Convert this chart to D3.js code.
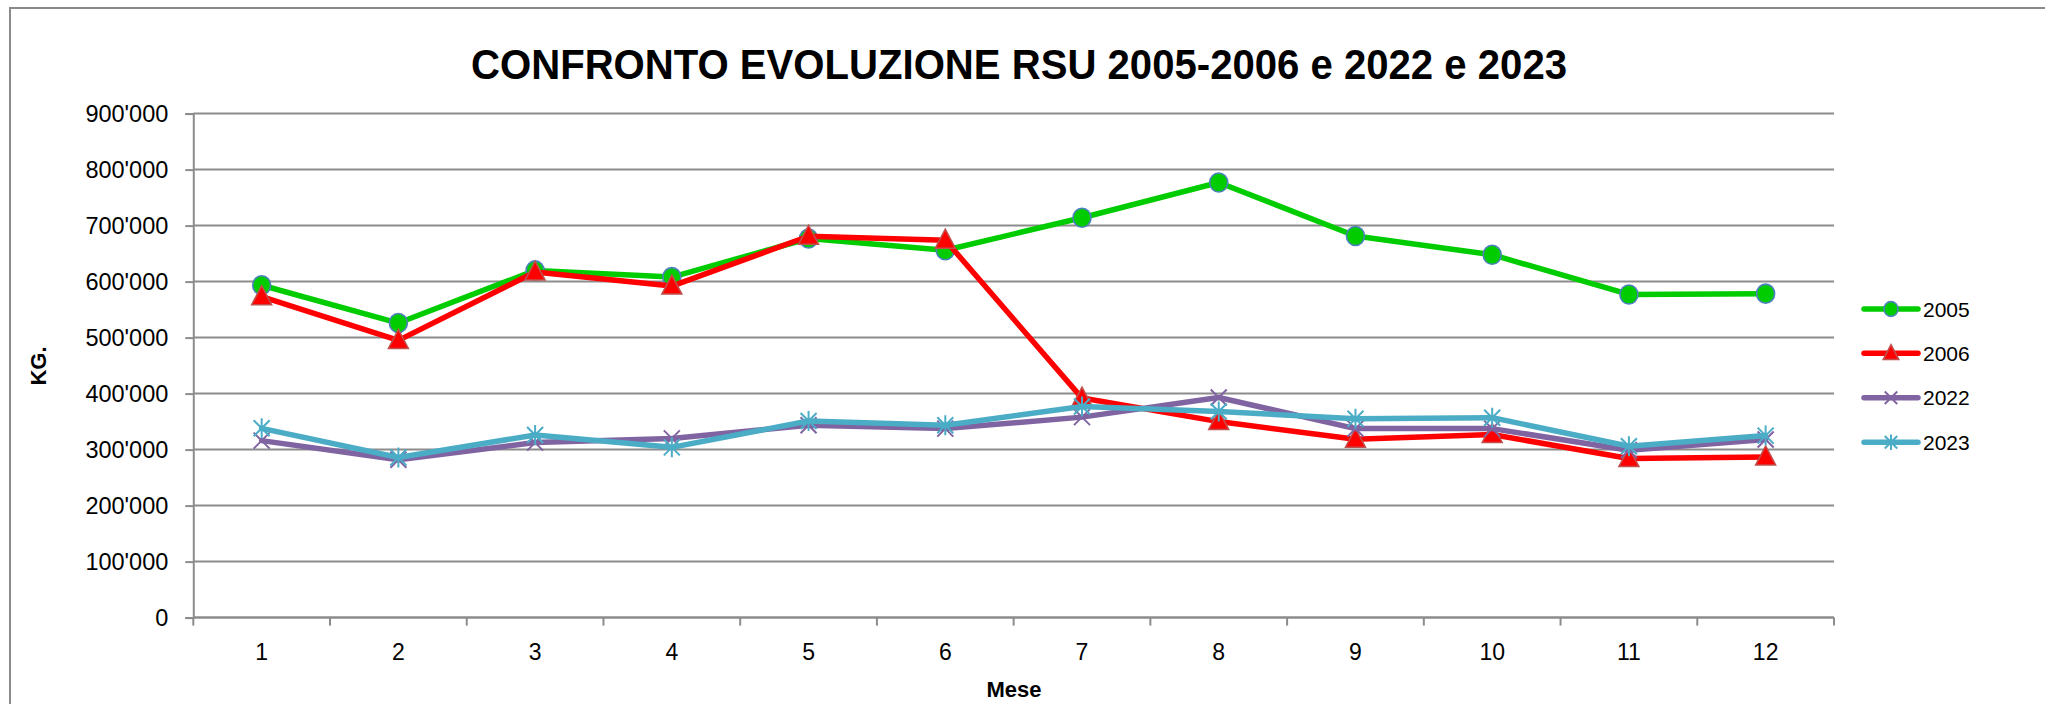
<!DOCTYPE html>
<html>
<head>
<meta charset="utf-8">
<script src="https://cdn.jsdelivr.net/npm/d3@7"></script>
<style>
  body { margin: 0; background: #fff; }
  svg { display: block; font-family: "Liberation Sans", Arial, sans-serif; }
</style>
</head>
<body>
<div id="vis"></div>
<script>
// frame size
const WIDTH = 2045;
const HEIGHT = 704;
const MARG = {left: 193.3, right: 211, top: 113.6, bottom: 86.4};
const VIS_WIDTH = WIDTH - MARG.left - MARG.right;
const VIS_HEIGHT = HEIGHT - MARG.top - MARG.bottom;

// data
const months = [1, 2, 3, 4, 5, 6, 7, 8, 9, 10, 11, 12];
const y2005 = [593500, 526000, 620000, 608000, 677000, 656000, 714000, 777000, 681500, 648000, 577000, 578500];
const y2006 = [573000, 495000, 617000, 592000, 681000, 674000, 392000, 350000, 318500, 327000, 284000, 287000];
const y2022 = [316000, 282000, 312500, 320000, 343500, 337500, 358000, 393000, 337500, 337500, 299000, 318000];
const y2023 = [338000, 286000, 326000, 304000, 351000, 343500, 377000, 368000, 355000, 357000, 306000, 325000];
const yTicks = [0, 100000, 200000, 300000, 400000, 500000, 600000, 700000, 800000, 900000];
const seriesNames = ["2005", "2006", "2022", "2023"];

const series = [
  {name: seriesNames[0], values: y2005, color: "#00cc00", marker: "circle"},
  {name: seriesNames[1], values: y2006, color: "#ff0000", marker: "triangle"},
  {name: seriesNames[2], values: y2022, color: "#8064a2", marker: "x"},
  {name: seriesNames[3], values: y2023, color: "#4bacc6", marker: "star"}
];

const svg = d3.select("#vis")
  .append("svg")
    .attr("width", WIDTH)
    .attr("height", HEIGHT);

// chart area border (runs off the right and bottom edge)
svg.append("rect")
  .attr("x", 10).attr("y", 8)
  .attr("width", WIDTH + 50).attr("height", HEIGHT + 50)
  .attr("fill", "none")
  .attr("stroke", "#8a8a8a")
  .attr("stroke-width", 2);

const X_SCALE = d3.scaleBand()
  .domain(months)
  .range([MARG.left, MARG.left + VIS_WIDTH]);
const Y_SCALE = d3.scaleLinear()
  .domain([0, 900000])
  .range([MARG.top + VIS_HEIGHT, MARG.top]);

const cx = (m) => X_SCALE(m) + X_SCALE.bandwidth() / 2;

// gridlines
svg.append("g")
  .selectAll("line")
  .data(yTicks)
  .enter().append("line")
    .attr("x1", MARG.left).attr("x2", MARG.left + VIS_WIDTH)
    .attr("y1", (d) => Y_SCALE(d)).attr("y2", (d) => Y_SCALE(d))
    .attr("stroke", "#8c8c8c")
    .attr("stroke-width", 2);

// y axis
const fmt = (d) => d3.format(",")(d).replace(/,/g, "'");
const yAxis = svg.append("g")
  .attr("transform", "translate(" + MARG.left + ",0)")
  .call(d3.axisLeft(Y_SCALE).tickValues(yTicks).tickFormat(fmt).tickSize(8).tickPadding(17));
yAxis.select(".domain").attr("stroke", "#8c8c8c").attr("stroke-width", 2);
yAxis.selectAll(".tick line").attr("stroke", "#8c8c8c").attr("stroke-width", 2);
yAxis.selectAll("text")
  .attr("font-size", "23.5px")
  .attr("font-family", "Liberation Sans, Arial, sans-serif")
  .attr("fill", "#000");

// x axis: labels centred, ticks on the category boundaries
const xAxis = svg.append("g")
  .attr("transform", "translate(0," + (MARG.top + VIS_HEIGHT) + ")")
  .call(d3.axisBottom(X_SCALE).tickSize(0).tickPadding(26));
xAxis.select(".domain").remove();
xAxis.selectAll("text")
  .attr("font-size", "23px")
  .attr("font-family", "Liberation Sans, Arial, sans-serif")
  .attr("fill", "#000");

const bounds = months.map((m) => X_SCALE(m)).concat([MARG.left + VIS_WIDTH]);
svg.append("g")
  .selectAll("line")
  .data(bounds)
  .enter().append("line")
    .attr("x1", (d) => d).attr("x2", (d) => d)
    .attr("y1", MARG.top + VIS_HEIGHT).attr("y2", MARG.top + VIS_HEIGHT + 8)
    .attr("stroke", "#8c8c8c")
    .attr("stroke-width", 2);
svg.append("line")
  .attr("x1", MARG.left).attr("x2", MARG.left + VIS_WIDTH)
  .attr("y1", MARG.top + VIS_HEIGHT).attr("y2", MARG.top + VIS_HEIGHT)
  .attr("stroke", "#8c8c8c")
  .attr("stroke-width", 2);

// marker drawing, k scales the marker
function drawMarker(g, type, color, k) {
  if (type == "circle") {
    g.append("ellipse").attr("rx", 9 * k).attr("ry", 9.5 * k)
      .attr("fill", "#00cc00").attr("stroke", "#4f81bd").attr("stroke-width", 1.6);
  } else if (type == "triangle") {
    g.append("path").attr("d", "M0," + (-11 * k) + " L" + (10 * k) + "," + (8 * k) + " L" + (-10 * k) + "," + (8 * k) + " Z")
      .attr("fill", "#ff0000").attr("stroke", "#c0504d").attr("stroke-width", 1.5);
  } else if (type == "x") {
    const a = 8 * k;
    g.append("path").attr("d", "M" + (-a) + "," + (-a) + " L" + a + "," + a + " M" + (-a) + "," + a + " L" + a + "," + (-a))
      .attr("stroke", color).attr("stroke-width", 2).attr("fill", "none");
  } else {
    const a = 8 * k, b = 10 * k;
    g.append("path").attr("d", "M" + (-a) + "," + (-a) + " L" + a + "," + a + " M" + (-a) + "," + a + " L" + a + "," + (-a) + " M0," + (-b) + " L0," + b)
      .attr("stroke", color).attr("stroke-width", 2).attr("fill", "none");
  }
}

const line = d3.line()
  .x((d, i) => cx(months[i]))
  .y((d) => Y_SCALE(d));

series.forEach((s) => {
  const g = svg.append("g");
  g.append("path")
    .datum(s.values)
    .attr("d", line)
    .attr("fill", "none")
    .attr("stroke", s.color)
    .attr("stroke-width", 5.5)
    .attr("stroke-linejoin", "round")
    .attr("stroke-linecap", "round");
  s.values.forEach((v, i) => {
    const mg = g.append("g")
      .attr("transform", "translate(" + cx(months[i]) + "," + Y_SCALE(v) + ")");
    drawMarker(mg, s.marker, s.color, 1);
  });
});

// title
svg.append("text")
  .attr("x", 1019).attr("y", 78.5)
  .attr("text-anchor", "middle")
  .attr("font-size", "42px")
  .attr("font-weight", "bold")
  .attr("textLength", 1096)
  .attr("lengthAdjust", "spacingAndGlyphs")
  .text("CONFRONTO EVOLUZIONE RSU 2005-2006 e 2022 e 2023");

// axis titles
svg.append("text")
  .attr("transform", "translate(46,366) rotate(-90)")
  .attr("text-anchor", "middle")
  .attr("font-size", "22px")
  .attr("font-weight", "bold")
  .text("KG.");
svg.append("text")
  .attr("x", 1014).attr("y", 697)
  .attr("text-anchor", "middle")
  .attr("font-size", "22px")
  .attr("font-weight", "bold")
  .text("Mese");

// legend
const LEG_X = 1864;
const LEG_Y = [309, 353.3, 397.7, 442.3];
series.forEach((s, i) => {
  const lg = svg.append("g").attr("transform", "translate(" + LEG_X + "," + LEG_Y[i] + ")");
  lg.append("line")
    .attr("x1", 0).attr("x2", 54).attr("y1", 0).attr("y2", 0)
    .attr("stroke", s.color).attr("stroke-width", 5.5).attr("stroke-linecap", "round");
  const mg = lg.append("g").attr("transform", "translate(27,0)");
  drawMarker(mg, s.marker, s.color, 0.78);
  lg.append("text")
    .attr("x", 59).attr("y", 7.5)
    .attr("font-size", "21px")
    .text(s.name);
});
</script>
</body>
</html>
